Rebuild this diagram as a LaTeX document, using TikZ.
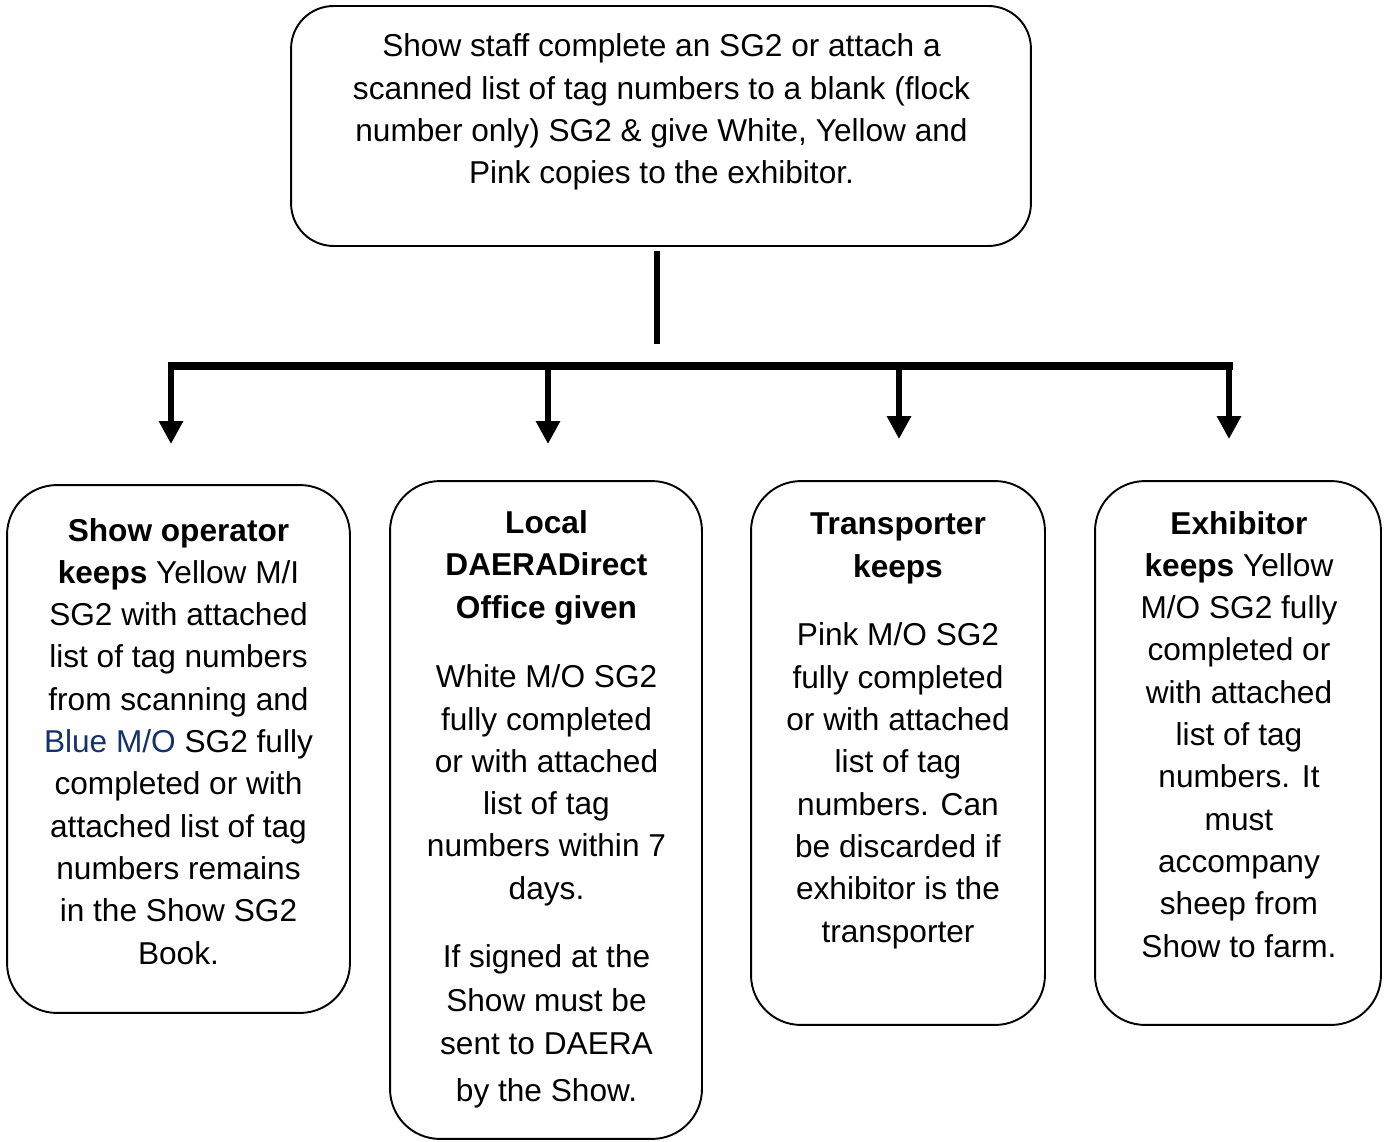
\documentclass[tikz,border=0pt]{standalone}
\usepackage{fontspec}
\setmainfont{Liberation Sans}
\usetikzlibrary{arrows.meta}
\definecolor{navyblue}{RGB}{20,50,110}
\begin{document}
\begin{tikzpicture}[x=0.02cm,y=-0.02cm,
  box/.style={draw, line width=1.1pt, rectangle, inner sep=0pt},
  txt/.style={align=center, inner sep=0pt, anchor=base,
    font=\fontsize{18pt}{24.07pt}\selectfont},
  link/.style={line width=3.97pt, line cap=butt},
  arr/.style={line width=3.97pt, -{Triangle[width=0.46cm,length=0.46cm]}}]
\useasboundingbox (0,0) rectangle (1387,1142);
% boxes
\node[box, rounded corners=0.85cm, minimum width=14.8cm, minimum height=4.8cm] (top) at (661,126) {};
\node[box, rounded corners=1cm, minimum width=6.86cm, minimum height=10.56cm] (b1) at (178.5,749) {};
\node[box, rounded corners=1cm, minimum width=6.24cm, minimum height=13.16cm] (b2) at (546,810) {};
\node[box, rounded corners=1cm, minimum width=5.88cm, minimum height=10.88cm] (b3) at (898,753) {};
\node[box, rounded corners=1cm, minimum width=5.72cm, minimum height=10.88cm] (b4) at (1238,753) {};
% texts (anchored at the baseline of their last line)
\node[txt] (ttop) at (661.5,183.6) {Show staff complete an SG2 or attach a\\
scanned list of tag numbers to a blank (flock\\
number only) SG2 \& give White, Yellow and\\
Pink copies to the exhibitor.};
\node[txt] (t1) at (178.5,964) {\textbf{Show operator}\\
\textbf{keeps} Yellow M/I\\
SG2 with attached\\
list of tag numbers\\
from scanning and\\
\textcolor{navyblue}{Blue M/O} SG2 fully\\
completed or with\\
attached list of tag\\
numbers remains\\
in the Show SG2\\
Book.};
\node[txt] (t2) at (546.5,1101) {\textbf{Local}\\
\textbf{DAERADirect}\\
\textbf{Office given}\\[15.5pt]
White M/O SG2\\
fully completed\\
or with attached\\
list of tag\\
numbers within 7\\
days.\\[15.1pt]
If signed at the\\[0.5pt]
Show must be\\[0.5pt]
sent to DAERA\\[2.5pt]
by the Show.};
\node[txt] (t3) at (898,942) {\textbf{Transporter}\\
\textbf{keeps}\\[15.1pt]
Pink M/O SG2\\
fully completed\\
or with attached\\
list of tag\\
numbers. Can\\
be discarded if\\
exhibitor is the\\
transporter};
\node[txt] (t4) at (1239,957) {\textbf{Exhibitor}\\
\textbf{keeps} Yellow\\
M/O SG2 fully\\
completed or\\
with attached\\
list of tag\\
numbers. It\\
must\\
accompany\\
sheep from\\
Show to farm.};
% connectors
\coordinate (stem) at (657,344);
\coordinate (barL) at (167.5,366);
\coordinate (barR) at (1232.5,366);
\coordinate (a1) at (171,366);
\coordinate (a2) at (548,366);
\coordinate (a3) at (899,366);
\coordinate (a4) at (1229,366);
\draw[link, shorten <=0.08cm] (top.south -| stem) -- (stem);
\draw[line width=4.5pt, line cap=butt] (barL) -- (barR);
\draw[arr, shorten >=0.8cm] (a1) -- (a1 |- b1.north);
\draw[arr, shorten >=0.72cm] (a2) -- (a2 |- b2.north);
\draw[arr, shorten >=0.82cm] (a3) -- (a3 |- b3.north);
\draw[arr, shorten >=0.82cm] (a4) -- (a4 |- b4.north);
\end{tikzpicture}
\end{document}
